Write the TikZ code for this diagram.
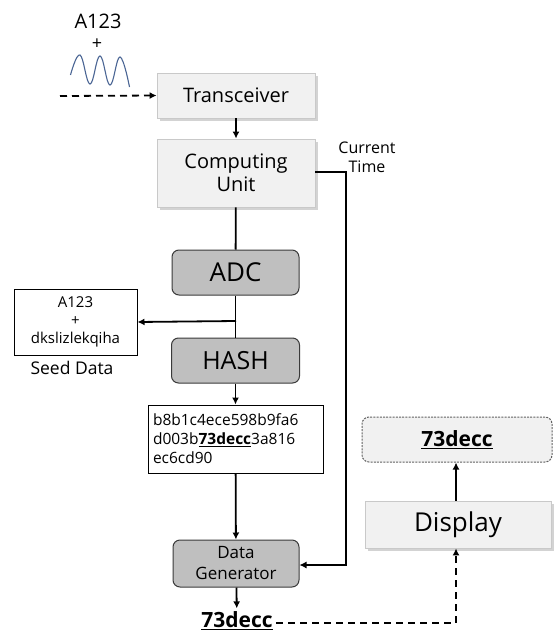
\documentclass[tikz,border=0pt]{standalone}
\usepackage{fontspec}
\setmainfont{Open Sans}
\usetikzlibrary{arrows.meta,shadows}
\definecolor{lightbox}{HTML}{F1F1F1}
\definecolor{lightedge}{HTML}{C9C9C9}
\definecolor{graybox}{HTML}{BFBFBF}
\definecolor{grayedge}{HTML}{3A3A3A}
\definecolor{wavecol}{HTML}{4A6594}
\tikzset{
  lightnode/.style={draw=lightedge, fill=lightbox, line width=0.8pt,
    drop shadow={opacity=0.35, shadow xshift=2.5pt, shadow yshift=-2.5pt},
    align=center, inner sep=0pt},
  grayrnd/.style={draw=grayedge, fill=graybox, line width=1pt, rounded corners=7pt,
    align=center, inner sep=0pt},
  plainbox/.style={draw=black, fill=white, line width=1pt, inner sep=0pt},
  conn/.style={line width=1.8pt, -{Latex[length=7pt,width=7pt]}},
  connplain/.style={line width=1.8pt},
  dashconn/.style={line width=1.8pt, dash pattern=on 7pt off 5pt, -{Latex[length=7pt,width=7pt]}},
  thinconn/.style={line width=1.1pt, -{Latex[length=7pt,width=7pt]}},
}
\begin{document}
\begin{tikzpicture}[x=1pt,y=-1pt]
\useasboundingbox (0,0) rectangle (555,634);

% input
\node[font={\fontsize{20}{22}\selectfont}] (inlabel) at (98,21) {A123};
\node[font={\fontsize{18}{20}\selectfont}] (inplus) at (97,44) {+};
\draw[wavecol, line width=1.1pt] plot[smooth, tension=0.7] coordinates
  {(70.5,75) (80,55) (90,84) (100,56) (110,85) (120,57) (129.5,87)};
\coordinate (instart) at (60,96);

\node[lightnode, minimum width=158pt, minimum height=45pt, font={\fontsize{20}{22}\selectfont}] (trx) at (236,95.5)
  {Transceiver};
\node[lightnode, minimum width=158pt, minimum height=68pt, font={\fontsize{20}{23}\selectfont}] (cpu) at (236,173)
  {Computing\\Unit};
\node[grayrnd, minimum width=127pt, minimum height=45pt, font={\fontsize{26}{28}\selectfont}] (adc) at (235.5,272.5)
  {ADC};
\node[grayrnd, minimum width=128pt, minimum height=45pt, font={\fontsize{25}{28}\selectfont}] (hash) at (235.5,360.5)
  {HASH};
\node[plainbox, minimum width=123pt, minimum height=66pt, align=center, font={\fontsize{15}{18}\selectfont}] (seed) at (75.5,322)
  {A123\\+\\dkslizlekqiha};
\node[font={\fontsize{17.5}{20}\selectfont}] (seedlbl) at (72,368) {Seed Data};
\node[plainbox, minimum width=175pt, minimum height=68pt, text width=165pt, align=left, font={\fontsize{15.5}{19}\selectfont}] (hbox) at (235.5,439)
  {b8b1c4ece598b9fa6\\d003b\underline{\textbf{73decc}}3a816\\ec6cd90};
\node[grayrnd, minimum width=126pt, minimum height=47pt, font={\fontsize{17}{21}\selectfont}] (dgen) at (236,563.5)
  {Data\\Generator};
\node[font={\fontsize{21}{22}\selectfont}] (out) at (237,621) {\underline{\textbf{73decc}}};
\node[lightnode, minimum width=186pt, minimum height=47pt, font={\fontsize{26}{28}\selectfont}] (disp) at (458,524.5)
  {Display};
\node[draw=grayedge!80, fill=lightbox, line width=1pt, dash pattern=on 2pt off 1.2pt,
  rounded corners=7pt, minimum width=190pt, minimum height=45pt, inner sep=0pt,
  font={\fontsize{21}{22}\selectfont}] (shown) at (457,439.5)
  {\underline{\textbf{73decc}}};
\node[align=center, font={\fontsize{16}{19}\selectfont}] (ctime) at (367,157) {Current\\Time};

% connectors
\draw[dashconn] (instart) -- (trx.west);
\draw[conn] (trx) -- (cpu);
\draw[connplain] (cpu) -- (adc);
\draw[connplain] (adc) -- (hash);
\coordinate (branch) at (236,321);
\draw[conn] (branch) -- (seed.east);
\draw[conn] (hash) -- (hbox);
\draw[conn] (hbox) -- (dgen);
\coordinate (tcorner) at (346,172);
\coordinate (tbottom) at (346,565);
\draw[thinconn] (cpu.east |- tcorner) -- (tcorner) -- (tbottom) -- (dgen.east |- tbottom);
\draw[conn] (dgen) -- (out);
\coordinate (dcorner) at (456,623);
\draw[dashconn] (out.east |- dcorner) -- (dcorner) -- (dcorner |- disp.south);
\draw[conn] (disp.north -| dcorner) -- (dcorner |- shown.south);
\end{tikzpicture}
\end{document}
